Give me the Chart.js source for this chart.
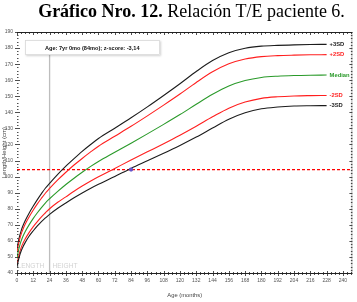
<!DOCTYPE html>
<html><head><meta charset="utf-8">
<script src="https://cdn.jsdelivr.net/npm/chart.js@4/dist/chart.umd.min.js"></script>
<style>
html,body{margin:0;padding:0;background:#fff;width:357px;height:302px;overflow:hidden;}
#t{position:absolute;left:0;top:1px;width:357px;text-align:center;font-family:"Liberation Serif","Times New Roman",serif;font-size:18px;color:#000;white-space:nowrap;padding-left:26px;box-sizing:border-box;}
canvas{position:absolute;left:0;top:0;}
</style></head><body>
<canvas id="c" width="357" height="302"></canvas>
<div id="t"><b>Gráfico Nro. 12.</b> Relación T/E paciente 6.</div>
<script>
// Age in months
const months = [0,1,2,3,4,6,9,12,15,18,21,24,30,36,42,48,54,60,72,84,96,108,120,132,144,156,168,180,192,204,216,228];
// Reference curves (cm)
const sdm3   = [43.6,47.8,51.0,53.5,55.6,58.9,63.0,66.3,69.3,72.0,74.3,76.5,80.3,83.6,86.8,89.8,92.6,95.2,100.1,105.1,109.8,114.5,119.4,124.6,130.2,135.7,139.7,142.2,143.3,143.9,144.1,144.2];
const sdm2   = [45.4,49.8,53.0,55.6,57.8,61.2,65.3,68.9,72.0,74.9,77.5,80.0,84.0,87.4,90.9,94.1,97.1,99.9,105.1,110.3,115.4,120.5,125.8,131.4,137.2,142.6,146.4,148.7,149.7,150.2,150.4,150.5];
const median = [49.1,53.7,57.1,59.8,62.1,65.7,70.1,74.0,77.5,80.7,83.7,86.2,90.8,95.1,99.0,102.7,106.2,109.4,115.1,120.8,126.6,132.5,138.6,145.0,151.2,156.4,159.8,161.7,162.5,162.9,163.1,163.2];
const sdp2   = [52.9,57.6,61.1,64.0,66.4,70.3,75.0,79.2,83.0,86.5,89.8,92.6,97.9,102.7,107.2,111.3,115.2,118.9,125.1,131.3,137.8,144.5,151.4,158.6,165.2,170.2,173.2,174.7,175.3,175.6,175.8,175.9];
const sdp3   = [54.7,59.5,63.2,66.1,68.6,72.5,77.4,81.7,85.7,89.4,92.9,95.8,101.4,106.5,111.2,115.7,119.8,123.7,130.1,136.6,143.4,150.5,157.8,165.4,172.2,177.1,179.9,181.2,181.7,182.0,182.2,182.3];
const curveNames = ["-3SD","-2SD","Median","+2SD","+3SD"];
// Patient
const patientAge = [84];
const patientHeight = [104.4];
const boxText = "Age: 7yr 0mo (84mo); z-score: -3,14";
const xTicks = [0,12,24,36,48,60,72,84,96,108,120,132,144,156,168,180,192,204,216,228,240];
const yTicks = [40,50,60,70,80,90,100,110,120,130,140,150,160,170,180,190];

const BLACK='#1c1c1c', RED='#ff1f1f', GREEN='#2a9a2a';
const curveColors=[BLACK,RED,GREEN,RED,BLACK];
const curveData=[sdm3,sdm2,median,sdp2,sdp3];
const X_MAX=247;

const datasets = curveData.map((arr,i)=>({
  label: curveNames[i],
  data: months.map((m,j)=>({x:m,y:arr[j]})),
  borderColor: curveColors[i], borderWidth:1.1, pointRadius:0,
  cubicInterpolationMode:'monotone', fill:false, order:2
}));
datasets.push({label:'hline', data:[{x:0,y:patientHeight[0]},{x:X_MAX,y:patientHeight[0]}],
  borderColor:'rgb(255,0,0)', borderWidth:1.2, borderDash:[3,2], pointRadius:0, order:3});
datasets.push({label:'vline', data:[{x:24,y:40},{x:24,y:176}],
  borderColor:'#bdbdbd', borderWidth:1.3, pointRadius:0, order:4});
datasets.push({label:'patient', data:patientAge.map((a,i)=>({x:a,y:patientHeight[i]})),
  showLine:false, pointRadius:1.8, pointBackgroundColor:'#6a5acd', pointBorderColor:'#5040c0', pointBorderWidth:0.6, order:1});

const deco = {
  id:'deco',
  beforeDatasetsDraw(chart){
    const {ctx, chartArea:a, scales:{x,y}} = chart;
    ctx.save();
    ctx.fillStyle='#d2d2d2';
    ctx.font='6.6px "Liberation Sans", Arial, sans-serif';
    ctx.textBaseline='middle';
    ctx.textAlign='left';
    ctx.fillText('LENGTH', x.getPixelForValue(0)+0.5, 266);
    ctx.fillText('HEIGHT', x.getPixelForValue(24)+3, 266);
    ctx.restore();
  },
  afterDatasetsDraw(chart){
    const {ctx, chartArea:a, scales:{x,y}} = chart;
    ctx.save();
    // frame
    ctx.strokeStyle='#222'; ctx.lineWidth=1;
    ctx.beginPath();
    ctx.moveTo(a.left, a.top+0.5); ctx.lineTo(a.right, a.top+0.5);
    ctx.moveTo(a.left, a.bottom+0.5); ctx.lineTo(a.right, a.bottom+0.5);
    ctx.stroke();
    ctx.strokeStyle='#777'; ctx.lineWidth=0.6;
    ctx.beginPath();
    ctx.moveTo(a.right-0.5, a.top); ctx.lineTo(a.right-0.5, a.bottom);
    ctx.stroke();
    // x ticks
    ctx.strokeStyle='#222'; ctx.lineWidth=0.8;
    ctx.beginPath();
    for(let m=0;m<=X_MAX;m+=3){
      const px=Math.round(x.getPixelForValue(m))+0.5;
      const major = m%12===0;
      ctx.moveTo(px,a.bottom-(major?2:1)); ctx.lineTo(px,a.bottom+(major?3:2));
      ctx.moveTo(px,a.top); ctx.lineTo(px,a.top+(major?3:2));
    }
    ctx.stroke();
    // y ticks
    ctx.beginPath();
    for(let v=40;v<=190;v+=2){
      const py=Math.round(y.getPixelForValue(v))+0.5;
      const major=v%10===0;
      ctx.moveTo(a.left+(major?-2:0),py); ctx.lineTo(a.left+(major?3:1.5),py);
      ctx.moveTo(a.right,py); ctx.lineTo(a.right-(major?3:1.5),py);
    }
    ctx.stroke();
    // curve labels
    ctx.font='bold 5.8px "Liberation Sans", Arial, sans-serif';
    ctx.textBaseline='middle'; ctx.textAlign='left';
    const lx = x.getPixelForValue(months[months.length-1])+3;
    curveData.forEach((arr,i)=>{
      ctx.fillStyle=curveColors[i];
      ctx.fillText(curveNames[i], lx, y.getPixelForValue(arr[arr.length-1]));
    });
    // info box
    ctx.shadowColor='rgba(0,0,0,0.18)'; ctx.shadowBlur=2; ctx.shadowOffsetX=1; ctx.shadowOffsetY=1;
    ctx.fillStyle='#fff';
    ctx.fillRect(25,40,135,15);
    ctx.shadowColor='transparent';
    ctx.strokeStyle='#d8d8d8'; ctx.lineWidth=0.8;
    ctx.strokeRect(25.5,40.5,134,14);
    ctx.fillStyle='#111';
    ctx.font='bold 5.6px "Liberation Sans", Arial, sans-serif';
    ctx.fillText(boxText, 45, 48);
    ctx.restore();
  }
};

new Chart(document.getElementById('c'), {
  type:'line',
  data:{datasets},
  options:{
    responsive:false, animation:false, devicePixelRatio:1,
    layout:{padding:{top:32,right:2,bottom:3,left:0}},
    plugins:{legend:{display:false}, tooltip:{enabled:false}},
    scales:{
      x:{type:'linear', min:0, max:X_MAX,
        afterFit(s){ s.height=26; },
        afterBuildTicks(s){ s.ticks = xTicks.map(v=>({value:v})); },
        grid:{display:false, drawTicks:false}, border:{display:false},
        ticks:{font:{size:5, family:'"Liberation Sans", Arial, sans-serif'}, color:'#555', padding:5, maxRotation:0, autoSkip:false},
        title:{display:true, text:'Age (months)', font:{size:5.8, family:'"Liberation Sans", Arial, sans-serif'}, color:'#444', padding:0}
      },
      y:{type:'linear', min:40, max:190,
        afterFit(s){ s.width=17; },
        afterBuildTicks(s){ s.ticks = yTicks.map(v=>({value:v})); },
        grid:{display:false, drawTicks:false}, border:{display:false},
        ticks:{font:{size:5, family:'"Liberation Sans", Arial, sans-serif'}, color:'#555', padding:4, autoSkip:false},
        title:{display:true, text:'Length/Height (cm)', font:{size:6, family:'"Liberation Sans", Arial, sans-serif'}, color:'#444', padding:{top:1,bottom:0}}
      }
    }
  },
  plugins:[deco]
});
</script>
</body></html>
